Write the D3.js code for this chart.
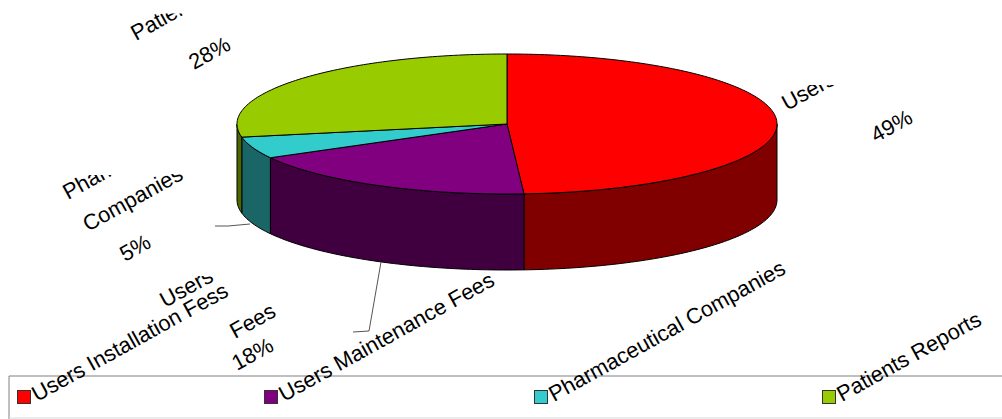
<!DOCTYPE html>
<html><head><meta charset="utf-8"><style>html,body{margin:0;padding:0;background:#fff}svg{display:block}text{font-family:"Liberation Sans",Arial,sans-serif;fill:#000}</style>
<script src="https://cdnjs.cloudflare.com/ajax/libs/d3/7.8.5/d3.min.js"></script></head><body><script>
const categories=["Users Installation Fess","Users Maintenance Fees","Pharmaceutical Companies","Patients Reports"];
const values=[49,18,5,28];
const topColors=["#ff0000","#800080","#33cccc","#99cc00"];
const sideColors=["#800000","#400040","#1a6666","#4d6600"];
const sliceLabels=[
 {lines:[["Users Installation",787,111,85],["49%",876,143,0]]},
 {lines:[["Users",165,308,276],["Fees",235,339,0],["18%",237,371,0]]},
 {lines:[["Pharmaceutical",68,200,175],["Companies",88,232,174],["5%",125,262,0]]},
 {lines:[["Patients Reports",136,41,13.5],["28%",194,70,0]]}
];
const legendX=[17,264,534,822];
const W=1002,H=419,cx=507,cy=124,rx=270,ry=70,depth=76;
const svg=d3.select("body").append("svg").attr("width",W).attr("height",H);
const pie=d3.pie().sort(null).value(d=>d)(values);
const px=d3.scaleLinear().domain([-1,1]).range([cx-rx,cx+rx]);
const py=d3.scaleLinear().domain([-1,1]).range([cy-ry,cy+ry]);
const line=d3.line();
function rim(a0,a1,dy){const n=Math.max(2,Math.ceil((a1-a0)/0.02));return d3.range(n+1).map(i=>{const a=a0+(a1-a0)*i/n;return[px(Math.sin(a)),py(-Math.cos(a))+dy]})}
pie.forEach((s,i)=>{const a0=Math.max(s.startAngle,Math.PI/2),a1=Math.min(s.endAngle,Math.PI*1.5);if(a1<=a0)return;
 const pts=rim(a0,a1,0).concat(rim(a0,a1,depth).reverse());
 svg.append("path").attr("d",line(pts)+"Z").attr("fill",sideColors[i]).attr("stroke","#000").attr("stroke-width",1)});
pie.forEach((s,i)=>{const pts=[[px(0),py(0)]].concat(rim(s.startAngle,s.endAngle,0));
 svg.append("path").attr("d",line(pts)+"Z").attr("fill",topColors[i]).attr("stroke","#000").attr("stroke-width",1)});
[[[215,226],[228,226],[250,224]],[[381,262],[369,331],[353,332]]].forEach(p=>svg.append("path").attr("d",line(p)).attr("fill","none").attr("stroke","#555").attr("stroke-width",1));
const defs=svg.append("defs");
const rot=-29,fs=21.8;
sliceLabels.forEach((l,li)=>l.lines.forEach((t,ti)=>{
 let g=svg;
 if(t[3]){const id="c"+li+"_"+ti;defs.append("clipPath").attr("id",id).append("rect").attr("x",0).attr("y",t[3]).attr("width",W).attr("height",H-t[3]);g=svg.append("g").attr("clip-path","url(#"+id+")")}
 g.append("text").attr("transform",`translate(${t[1]},${t[2]}) rotate(${rot})`).attr("font-size",fs).text(t[0]);
}));
svg.append("path").attr("d","M1002,376H9V419").attr("fill","none").attr("stroke","#808080").attr("stroke-width",1);
svg.append("path").attr("d","M9,418H1002").attr("fill","none").attr("stroke","#d8d8d8").attr("stroke-width",1);
categories.forEach((c,i)=>{
 svg.append("rect").attr("x",legendX[i]+.5).attr("y",390.5).attr("width",13).attr("height",13).attr("fill",topColors[i]).attr("stroke","#333");
 svg.append("text").attr("transform",`translate(${legendX[i]+20},${402}) rotate(${rot})`).attr("font-size",fs).text(c);
});
</script></body></html>
